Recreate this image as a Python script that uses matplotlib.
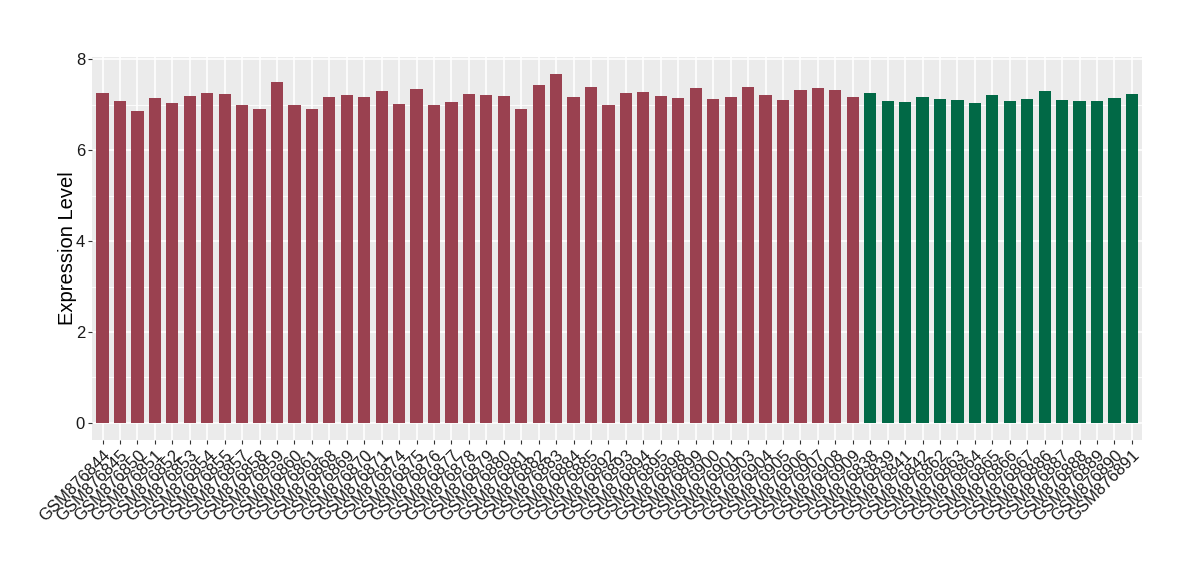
import matplotlib
matplotlib.use("Agg")
import matplotlib.pyplot as plt
import numpy as np

plt.rcParams["font.family"] = ["Liberation Sans", "DejaVu Sans"]

# samples, group 1 (red)
samples_a = ["GSM876844", "GSM876845", "GSM876850", "GSM876851", "GSM876852", "GSM876853",
             "GSM876854", "GSM876855", "GSM876857", "GSM876858", "GSM876859", "GSM876860",
             "GSM876861", "GSM876868", "GSM876869", "GSM876870", "GSM876871", "GSM876874",
             "GSM876875", "GSM876876", "GSM876877", "GSM876878", "GSM876879", "GSM876880",
             "GSM876881", "GSM876882", "GSM876883", "GSM876884", "GSM876885", "GSM876892",
             "GSM876893", "GSM876894", "GSM876895", "GSM876898", "GSM876899", "GSM876900",
             "GSM876901", "GSM876903", "GSM876904", "GSM876905", "GSM876906", "GSM876907",
             "GSM876908", "GSM876909"]
values_a = [7.26, 7.08, 6.86, 7.14, 7.03, 7.18, 7.26, 7.23, 6.99, 6.90, 7.49, 6.99,
            6.90, 7.16, 7.21, 7.16, 7.30, 7.01, 7.34, 6.99, 7.05, 7.23, 7.21, 7.18,
            6.90, 7.43, 7.67, 7.16, 7.38, 6.99, 7.25, 7.27, 7.18, 7.14, 7.36, 7.12,
            7.16, 7.38, 7.21, 7.10, 7.32, 7.36, 7.32, 7.16]

# samples, group 2 (green)
samples_b = ["GSM876838", "GSM876839", "GSM876841", "GSM876842", "GSM876862", "GSM876863",
             "GSM876864", "GSM876865", "GSM876866", "GSM876867", "GSM876886", "GSM876887",
             "GSM876888", "GSM876889", "GSM876890", "GSM876891"]
values_b = [7.25, 7.08, 7.05, 7.16, 7.12, 7.10, 7.03, 7.21, 7.08, 7.12, 7.30, 7.10,
            7.08, 7.08, 7.14, 7.23]

labels = samples_a + samples_b
values = values_a + values_b
colors = ["#9a4150"] * len(samples_a) + ["#016946"] * len(samples_b)
x = np.arange(len(labels))

fig = plt.figure(figsize=(12, 5.8), dpi=100)
ax = fig.add_axes([0.0767, 0.241, 0.8753, 0.661])
ax.set_facecolor("#ebebeb")

# grid like ggplot
for v in [1, 3, 5, 7]:
    ax.axhline(v, color="white", lw=0.6, zorder=0)
for v in [0, 2, 4, 6, 8]:
    ax.axhline(v, color="white", lw=1.2, zorder=0)
for xi in x:
    ax.axvline(xi, color="white", lw=1.2, zorder=0)

ax.bar(x, values, width=0.7, color=colors, zorder=2)

ax.set_xlim(-0.6, len(labels) - 1 + 0.6)
ax.set_ylim(-0.38, 8.05)
ax.set_yticks([0, 2, 4, 6, 8])
ax.set_yticklabels(["0", "2", "4", "6", "8"], fontsize=12, color="#1a1a1a")
ax.set_xticks(x)
ax.set_xticklabels(labels, rotation=45, ha="right", va="top",
                   rotation_mode="anchor", fontsize=12, color="#1a1a1a")
ax.tick_params(axis="both", length=3, color="#333333", width=0.8, pad=2)
ax.set_ylabel("Expression Level", fontsize=14.5, labelpad=-1)

for s in ax.spines.values():
    s.set_visible(False)

fig.savefig("out.png", dpi=100)
